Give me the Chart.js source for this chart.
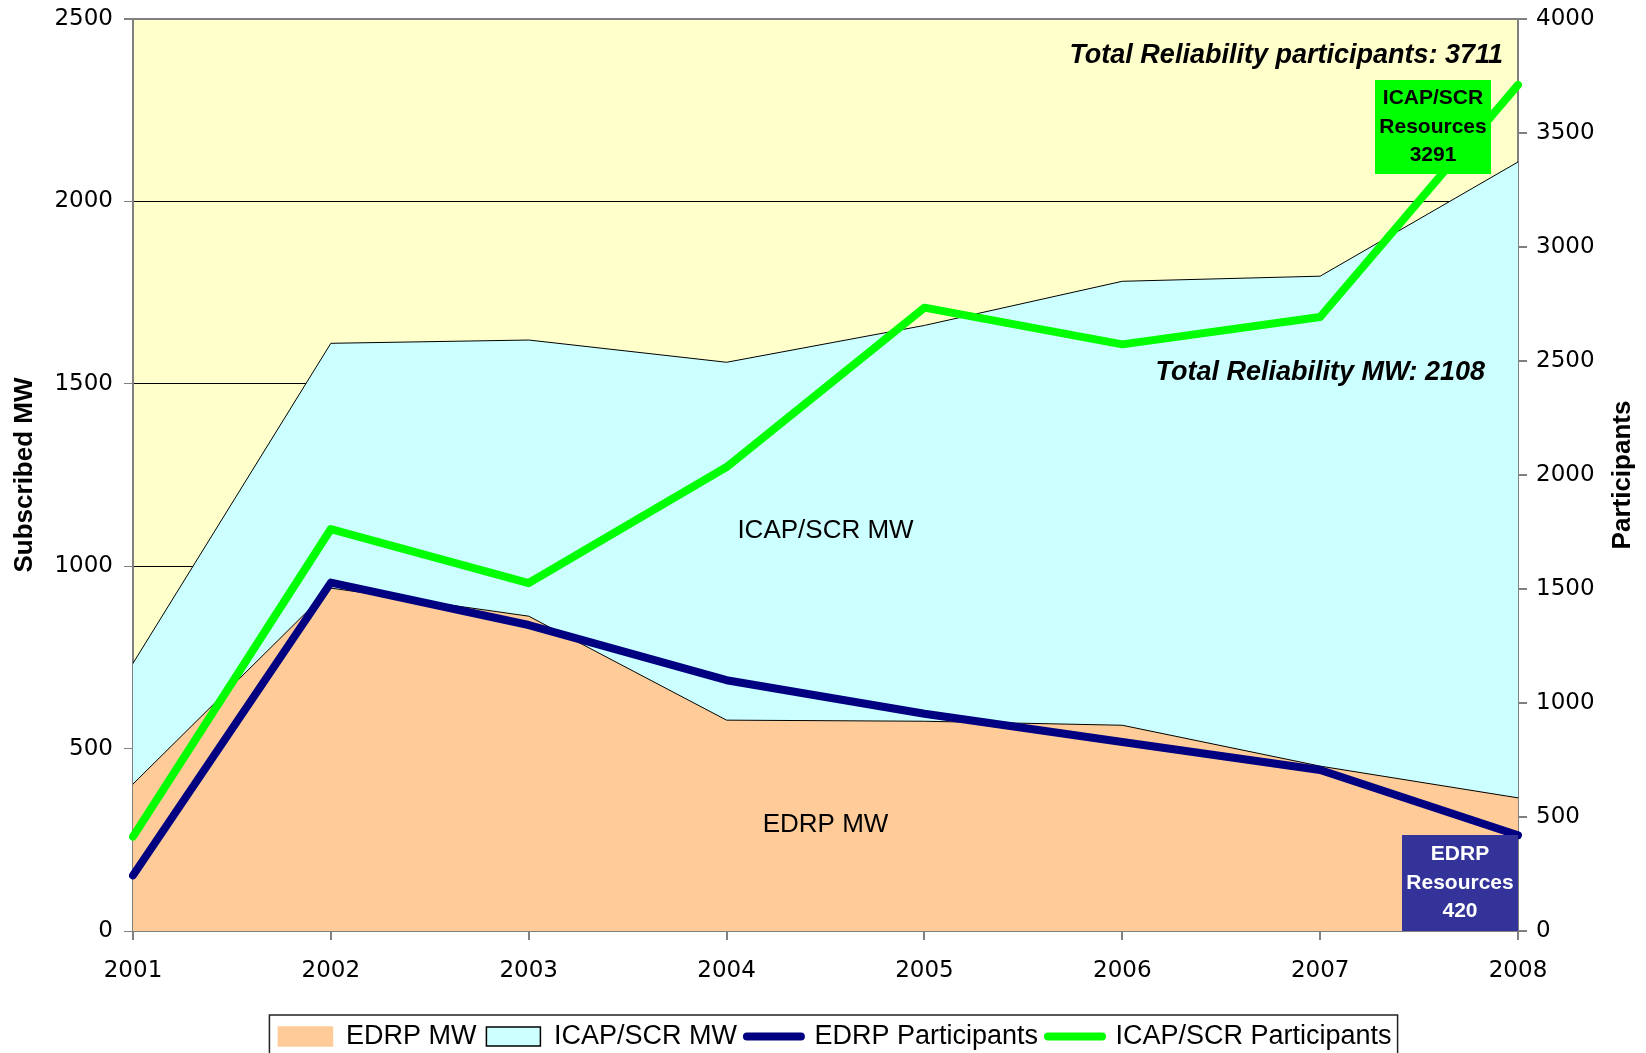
<!DOCTYPE html>
<html>
<head>
<meta charset="utf-8">
<title>Reliability programs</title>
<script src="https://cdn.jsdelivr.net/npm/chart.js@4.4.1/dist/chart.umd.min.js"></script>
<style>
  html, body { margin: 0; padding: 0; background: #fff; overflow: hidden; }
</style>
</head>
<body>
<canvas id="chart" width="1646" height="1060"></canvas>
<script>
// values
const years = ['2001', '2002', '2003', '2004', '2005', '2006', '2007', '2008'];
const edrpMW = [403, 940, 863, 578, 575, 564, 452, 365];
const icapMW = [331, 671, 757, 981, 1085, 1217, 1343, 1743];
const edrpParticipants = [244, 1528, 1342, 1100, 953, 829, 706, 420];
const icapParticipants = [414, 1763, 1526, 2035, 2734, 2573, 2693, 3711];
const mwTicks = [0, 500, 1000, 1500, 2000, 2500];
const participantTicks = [0, 500, 1000, 1500, 2000, 2500, 3000, 3500, 4000];

const notes = {
    totalParticipants: 'Total Reliability participants: 3711',
    totalMW: 'Total Reliability MW: 2108',
    icapArea: 'ICAP/SCR MW',
    edrpArea: 'EDRP MW',
    icapBox: ['ICAP/SCR', 'Resources', '3291'],
    edrpBox: ['EDRP', 'Resources', '420'],
};

const SANS = '"Liberation Sans", Arial, sans-serif';
const TICK_FONT = { family: '"DejaVu Sans", Verdana, sans-serif', size: 23 };
const AXIS_GREY = '#808080';

// yellow plot background behind grid + areas
const plotBackground = {
    id: 'plotBackground',
    beforeDraw(chart) {
        const { ctx, chartArea: a } = chart;
        ctx.save();
        ctx.fillStyle = '#FFFFCC';
        ctx.fillRect(a.left, a.top, a.right - a.left, a.bottom - a.top);
        ctx.restore();
    }
};

function drawBox(ctx, x, y, w, h, fill, color, lines) {
    ctx.fillStyle = fill;
    ctx.fillRect(x, y, w, h);
    ctx.fillStyle = color;
    ctx.font = 'bold 21px ' + SANS;
    ctx.textAlign = 'center';
    ctx.textBaseline = 'middle';
    const step = 28.5;
    const cy = y + h / 2 - step;
    lines.forEach((t, i) => ctx.fillText(t, x + w / 2, cy + i * step));
}

// text notes and the two labelled boxes
const annotations = {
    id: 'annotations',
    afterDatasetsDraw(chart) {
        const { ctx, chartArea: a, scales } = chart;
        const xEnd = scales.x.getPixelForValue(years.length - 1);
        const xMid = (a.left + a.right) / 2;
        ctx.save();

        ctx.fillStyle = '#000';
        ctx.textBaseline = 'middle';
        ctx.font = 'italic bold 27px ' + SANS;
        ctx.textAlign = 'right';
        ctx.fillText(notes.totalParticipants, xEnd - 15, scales.y1.getPixelForValue(3840));
        ctx.fillText(notes.totalMW, xEnd - 33, scales.y.getPixelForValue(1530));

        ctx.font = '26px ' + SANS;
        ctx.textAlign = 'center';
        ctx.fillText(notes.icapArea, xMid, scales.y.getPixelForValue(1097));
        ctx.fillText(notes.edrpArea, xMid, scales.y.getPixelForValue(291));

        drawBox(ctx, xEnd - 143, a.top + 61, 116, 94, '#00FF00', '#000', notes.icapBox);
        drawBox(ctx, xEnd - 116, a.bottom - 96, 116, 96, '#333399', '#fff', notes.edrpBox);

        // right axis title, reading bottom-to-top like the left one
        ctx.translate(chart.width - 23, (a.top + a.bottom) / 2);
        ctx.rotate(-Math.PI / 2);
        ctx.fillStyle = '#000';
        ctx.font = 'bold 26px ' + SANS;
        ctx.textAlign = 'center';
        ctx.fillText('Participants', 0, 0);
        ctx.restore();
    }
};

// nudge the legend row a little right and frame it (bottom edge runs off the page)
const legendFrame = {
    id: 'legendFrame',
    afterLayout(chart) {
        if (!chart.legend) return;
        chart.legend.left += 12;
        chart.legend.right += 12;
    },
    afterDraw(chart) {
        const boxes = chart.legend && chart.legend.legendHitBoxes;
        if (!boxes || !boxes.length) return;
        const left = Math.min(...boxes.map(b => b.left)) - 9;
        const right = Math.max(...boxes.map(b => b.left + b.width)) + 6;
        const top = boxes[0].top - 8;
        const { ctx } = chart;
        ctx.save();
        ctx.strokeStyle = '#222';
        ctx.lineWidth = 1.5;
        ctx.strokeRect(left, top, right - left, chart.height + 10 - top);
        ctx.restore();
    }
};

// areas: EDRP stacked first (bottom), ICAP/SCR on top of it
const datasets = [
    {
        label: 'EDRP MW',
        data: edrpMW,
        yAxisID: 'y',
        backgroundColor: '#FFCC99',
        borderColor: '#000',
        borderWidth: 1,
        fill: 'origin',
        pointRadius: 0,
        order: 2,
    },
    {
        label: 'ICAP/SCR MW',
        data: icapMW,
        yAxisID: 'y',
        backgroundColor: '#CCFFFF',
        borderColor: '#000',
        borderWidth: 1,
        fill: '-1',
        pointRadius: 0,
        order: 3,
    },
    {
        label: 'EDRP Participants',
        data: edrpParticipants,
        yAxisID: 'y1',
        borderColor: '#000080',
        borderWidth: 8,
        fill: false,
        pointRadius: 0,
        order: 1,
    },
    {
        label: 'ICAP/SCR Participants',
        data: icapParticipants,
        yAxisID: 'y1',
        borderColor: '#00FF00',
        borderWidth: 8,
        fill: false,
        pointRadius: 0,
        order: 0,
    },
];

const plainNumber = v => String(v);

new Chart(document.getElementById('chart'), {
    type: 'line',
    data: { labels: years, datasets },
    plugins: [plotBackground, annotations, legendFrame],
    options: {
        responsive: false,
        animation: false,
        layout: { padding: { top: 19, left: 0, right: 0, bottom: 0 } },
        elements: { line: { tension: 0, borderJoinStyle: 'round', borderCapStyle: 'round' } },
        scales: {
            x: {
                offset: false,
                grid: { drawOnChartArea: false, tickLength: 9, tickColor: AXIS_GREY, lineWidth: 2 },
                border: { color: AXIS_GREY, width: 2 },
                ticks: { color: '#000', font: TICK_FONT, padding: 17, maxRotation: 0 },
                afterFit(s) { s.height = s.chart.height - 931 - (s.chart.legend ? s.chart.legend.height : 0); },
            },
            y: {
                position: 'left',
                stacked: true,
                min: 0,
                max: 2500,
                afterBuildTicks(s) { s.ticks = mwTicks.map(v => ({ value: v })); },
                grid: {
                    color: c => (c.tick && c.tick.value === 2500 ? AXIS_GREY : '#000'),
                    lineWidth: c => (c.tick && c.tick.value === 2500 ? 2 : 1),
                    tickLength: 9,
                    tickColor: AXIS_GREY,
                },
                border: { color: AXIS_GREY, width: 2 },
                ticks: { color: '#000', font: TICK_FONT, padding: 11, callback: plainNumber },
                title: {
                    display: true,
                    text: 'Subscribed MW',
                    color: '#000',
                    font: { family: SANS, size: 26, weight: 'bold' },
                    padding: { top: 9, bottom: 0 },
                },
                afterFit(s) { s.width = 133; s.paddingTop = 0; s.paddingBottom = 0; },
            },
            y1: {
                position: 'right',
                min: 0,
                max: 4000,
                afterBuildTicks(s) { s.ticks = participantTicks.map(v => ({ value: v })); },
                grid: { drawOnChartArea: false, tickLength: 9, tickColor: AXIS_GREY, lineWidth: 2 },
                border: { color: AXIS_GREY, width: 2 },
                ticks: { color: '#000', font: TICK_FONT, padding: 9, callback: plainNumber },
                afterFit(s) { s.width = 128; s.paddingTop = 0; s.paddingBottom = 0; },
            },
        },
        plugins: {
            tooltip: { enabled: false },
            legend: {
                position: 'bottom',
                labels: {
                    color: '#000',
                    font: { family: SANS, size: 27 },
                    usePointStyle: true,
                    pointStyleWidth: 54,
                    boxHeight: 19,
                    padding: 10,
                    sort: (a, b) => a.datasetIndex - b.datasetIndex,
                    generateLabels(chart) {
                        return chart.data.datasets.map((ds, i) => {
                            const isArea = ds.fill !== false;
                            return {
                                text: ds.label,
                                datasetIndex: i,
                                hidden: false,
                                pointStyle: isArea ? 'rect' : 'line',
                                fillStyle: isArea ? ds.backgroundColor : ds.borderColor,
                                strokeStyle: isArea ? (i === 0 ? ds.backgroundColor : '#000') : ds.borderColor,
                                lineWidth: isArea ? 1.5 : 8,
                                lineCap: 'round',
                                fontColor: '#000',
                            };
                        });
                    },
                },
            },
        },
    },
});
</script>
</body>
</html>
